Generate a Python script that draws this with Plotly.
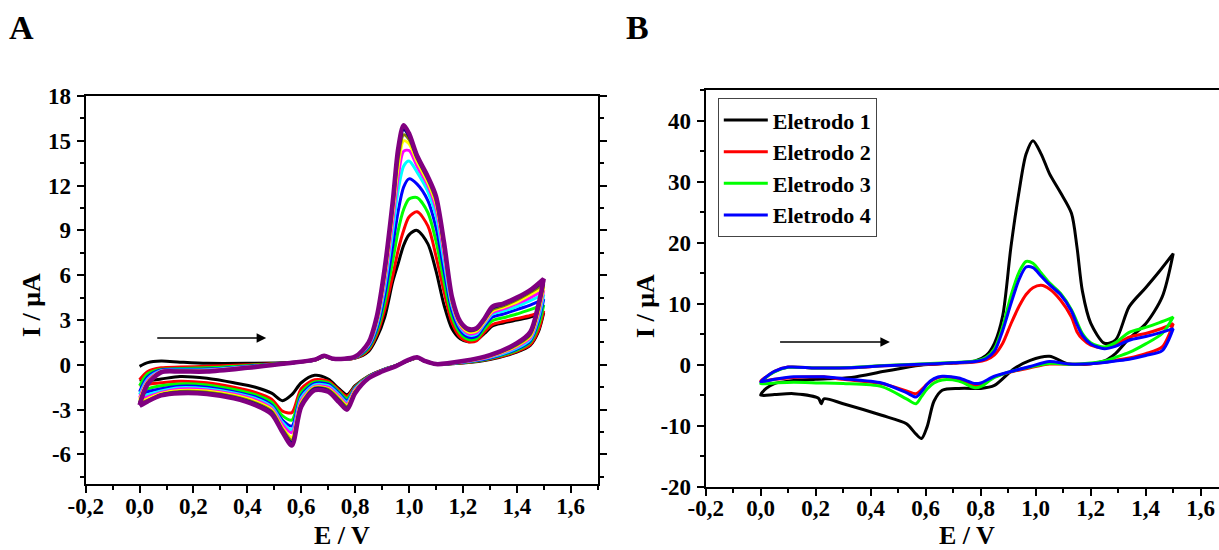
import plotly.graph_objects as go

FONT = "Liberation Serif"

# ---------------- axis ticks (decimal comma, plain hyphen) ----------------
e_ticks = [-0.2, 0.0, 0.2, 0.4, 0.6, 0.8, 1.0, 1.2, 1.4, 1.6]
e_tick_text = ["-0,2", "0,0", "0,2", "0,4", "0,6", "0,8", "1,0", "1,2", "1,4", "1,6"]
i_ticks_a = [-6, -3, 0, 3, 6, 9, 12, 15, 18]
i_tick_text_a = ["-6", "-3", "0", "3", "6", "9", "12", "15", "18"]
i_ticks_b = [-20, -10, 0, 10, 20, 30, 40]
i_tick_text_b = ["-20", "-10", "0", "10", "20", "30", "40"]

# ---------------- panel A: successive voltammetric cycles ----------------
# potential grids (V) for the anodic (forward) and cathodic (reverse) sweeps
e_fwd_a = [0.00, 0.03, 0.08, 0.15, 0.25, 0.40, 0.55, 0.65, 0.685, 0.72,
           0.80, 0.85, 0.88, 0.91, 0.94, 0.96, 0.98, 1.00, 1.03, 1.07,
           1.10, 1.13, 1.16, 1.19, 1.22, 1.25, 1.28, 1.31, 1.35, 1.40,
           1.45, 1.50]
e_rev_a = [1.50, 1.48, 1.45, 1.40, 1.30, 1.20, 1.10, 1.06, 1.03, 1.00,
           0.95, 0.90, 0.85, 0.80, 0.77, 0.74, 0.70, 0.65, 0.60, 0.565,
           0.53, 0.49, 0.43, 0.35, 0.25, 0.15, 0.08, 0.03, 0.00]

# currents (uA)
c1_fwd = [-0.10, 0.15, 0.25, 0.18, 0.10, 0.10, 0.15, 0.30, 0.55, 0.38,
          0.45, 0.90, 1.8, 3.2, 5.6, 6.8, 8.0, 8.7, 9.0, 8.1,
          6.3, 4.0, 2.4, 1.75, 1.55, 1.65, 2.1, 2.6, 2.8, 3.0,
          3.2, 3.5]
c1_rev = [3.5, 2.2, 1.3, 0.85, 0.35, 0.12, 0.05, 0.25, 0.45, 0.3,
          -0.05, -0.35, -0.75, -1.4, -2.0, -1.6, -0.95, -0.7, -1.2, -2.0,
          -2.4, -1.9, -1.5, -1.2, -0.9, -0.78, -0.95, -1.05, -1.0]

c2_fwd = [-1.0, -0.45, -0.2, -0.15, -0.1, 0.0, 0.12, 0.3, 0.55, 0.38,
          0.45, 1.0, 2.0, 3.7, 6.0, 7.7, 9.0, 9.9, 10.25, 9.3,
          7.3, 4.9, 2.8, 1.85, 1.55, 1.6, 2.2, 2.7, 2.9, 3.1,
          3.3, 3.6]
c2_rev = [3.6, 2.3, 1.35, 0.9, 0.38, 0.13, 0.05, 0.25, 0.46, 0.3,
          -0.05, -0.36, -0.77, -1.45, -2.1, -1.7, -1.1, -1.0, -1.6, -3.2,
          -3.1, -2.3, -1.85, -1.5, -1.2, -1.1, -1.2, -1.3, -1.4]

c3_fwd = [-1.4, -0.6, -0.3, -0.25, -0.2, -0.05, 0.12, 0.32, 0.56, 0.39,
          0.47, 1.1, 2.2, 4.2, 7.0, 9.0, 10.4, 11.1, 11.2, 10.2,
          8.3, 5.6, 3.2, 2.1, 1.7, 1.75, 2.4, 2.95, 3.15, 3.4,
          3.7, 4.0]
c3_rev = [4.0, 2.6, 1.5, 0.97, 0.42, 0.15, 0.05, 0.25, 0.47, 0.31,
          -0.06, -0.37, -0.79, -1.5, -2.25, -1.8, -1.2, -1.15, -1.85, -3.7,
          -3.4, -2.5, -2.0, -1.65, -1.35, -1.28, -1.4, -1.6, -1.8]

c4_fwd = [-1.8, -0.8, -0.35, -0.3, -0.28, -0.1, 0.1, 0.32, 0.57, 0.39,
          0.48, 1.2, 2.4, 4.7, 8.0, 10.3, 11.9, 12.45, 12.1, 11.0,
          9.2, 6.3, 3.6, 2.3, 1.85, 1.9, 2.6, 3.2, 3.4, 3.7,
          4.0, 4.4]
c4_rev = [4.4, 2.9, 1.6, 1.05, 0.46, 0.17, 0.05, 0.25, 0.47, 0.32,
          -0.07, -0.38, -0.81, -1.55, -2.4, -1.9, -1.3, -1.25, -2.05, -4.1,
          -3.7, -2.7, -2.15, -1.8, -1.5, -1.43, -1.6, -1.8, -2.0]

c5_fwd = [-2.0, -0.95, -0.4, -0.35, -0.33, -0.13, 0.1, 0.33, 0.58, 0.39,
          0.5, 1.3, 2.6, 5.2, 9.0, 11.7, 13.3, 13.65, 12.9, 11.6,
          10.0, 6.9, 3.9, 2.5, 2.0, 2.05, 2.75, 3.4, 3.6, 3.9,
          4.3, 4.7]
c5_rev = [4.7, 3.1, 1.7, 1.12, 0.5, 0.18, 0.05, 0.25, 0.48, 0.32,
          -0.07, -0.39, -0.83, -1.6, -2.5, -2.0, -1.4, -1.35, -2.2, -4.35,
          -3.85, -2.8, -2.25, -1.88, -1.6, -1.53, -1.75, -2.0, -2.2]

c6_fwd = [-2.2, -1.05, -0.42, -0.38, -0.37, -0.15, 0.1, 0.34, 0.59, 0.4,
          0.51, 1.35, 2.8, 5.6, 9.7, 12.6, 14.3, 14.35, 13.3, 12.0,
          10.5, 7.4, 4.1, 2.6, 2.1, 2.15, 2.85, 3.5, 3.75, 4.1,
          4.5, 5.0]
c6_rev = [5.0, 3.35, 1.8, 1.2, 0.54, 0.2, 0.05, 0.25, 0.48, 0.33,
          -0.08, -0.4, -0.85, -1.65, -2.6, -2.1, -1.5, -1.45, -2.35, -4.55,
          -4.0, -2.9, -2.35, -1.96, -1.68, -1.62, -1.85, -2.15, -2.35]

c7_fwd = [-2.35, -1.15, -0.45, -0.4, -0.4, -0.17, 0.1, 0.34, 0.59, 0.4,
          0.52, 1.4, 2.9, 5.9, 10.2, 13.3, 15.0, 14.8, 13.6, 12.2,
          10.8, 7.7, 4.2, 2.7, 2.2, 2.25, 2.9, 3.6, 3.85, 4.2,
          4.7, 5.2]
c7_rev = [5.2, 3.55, 1.9, 1.27, 0.57, 0.22, 0.05, 0.25, 0.49, 0.33,
          -0.08, -0.42, -0.86, -1.72, -2.7, -2.2, -1.6, -1.5, -2.5, -4.85,
          -4.2, -3.0, -2.45, -2.04, -1.76, -1.72, -1.92, -2.28, -2.5]

c8_fwd = [-2.5, -1.2, -0.47, -0.42, -0.42, -0.18, 0.1, 0.35, 0.6, 0.4,
          0.53, 1.45, 3.0, 6.1, 10.5, 13.8, 15.4, 15.1, 13.8, 12.4,
          11.0, 7.9, 4.3, 2.8, 2.3, 2.35, 3.0, 3.7, 3.95, 4.35,
          4.85, 5.4]
c8_rev = [5.4, 3.7, 2.0, 1.33, 0.6, 0.23, 0.05, 0.25, 0.49, 0.34,
          -0.09, -0.43, -0.88, -1.8, -2.8, -2.3, -1.65, -1.55, -2.6, -5.05,
          -4.3, -3.1, -2.55, -2.12, -1.83, -1.78, -1.98, -2.38, -2.6]

c9_fwd = [-2.6, -1.25, -0.48, -0.44, -0.44, -0.19, 0.1, 0.35, 0.6, 0.4,
          0.54, 1.48, 3.1, 6.3, 10.8, 14.2, 15.75, 15.3, 13.9, 12.5,
          11.2, 8.0, 4.4, 2.85, 2.35, 2.4, 3.05, 3.8, 4.05, 4.45,
          4.95, 5.6]
c9_rev = [5.6, 3.85, 2.1, 1.39, 0.63, 0.24, 0.05, 0.25, 0.5, 0.34,
          -0.09, -0.44, -0.89, -1.85, -2.9, -2.4, -1.72, -1.6, -2.7, -5.2,
          -4.4, -3.2, -2.62, -2.18, -1.9, -1.84, -2.02, -2.45, -2.7]

c10_fwd = [-2.7, -1.3, -0.5, -0.45, -0.45, -0.2, 0.1, 0.35, 0.6, 0.4,
           0.55, 1.5, 3.2, 6.5, 11.0, 14.5, 16.05, 15.5, 14.0, 12.6,
           11.3, 8.2, 4.5, 2.9, 2.4, 2.45, 3.1, 3.9, 4.1, 4.5,
           5.0, 5.75]
c10_rev = [5.75, 4.0, 2.2, 1.45, 0.65, 0.25, 0.05, 0.25, 0.5, 0.35,
           -0.1, -0.45, -0.9, -1.9, -3.0, -2.5, -1.8, -1.7, -2.8, -5.4,
           -4.5, -3.3, -2.7, -2.25, -1.95, -1.9, -2.05, -2.45, -2.75]

cycle_colors = ["#000000", "#FF0000", "#00FF00", "#0000FF", "#00FFFF",
                "#FF00FF", "#FFFF00", "#808000", "#000080", "#800080"]

# ---------------- panel B: four electrodes ----------------
e_fwd_b = [0.00, 0.02, 0.05, 0.10, 0.20, 0.33, 0.45, 0.58, 0.70, 0.78,
           0.82, 0.85, 0.88, 0.91, 0.94, 0.965, 0.99, 1.02, 1.05, 1.09,
           1.13, 1.15, 1.17, 1.20, 1.25, 1.29, 1.34, 1.40, 1.45, 1.50]
e_rev_b = [1.50, 1.46, 1.40, 1.34, 1.29, 1.25, 1.20, 1.12, 1.05, 0.98,
           0.92, 0.85, 0.80, 0.78, 0.72, 0.66, 0.63, 0.605, 0.585, 0.565,
           0.53, 0.44, 0.30, 0.23, 0.22, 0.21, 0.12, 0.05, 0.00]

el1_fwd = [-5.0, -3.9, -3.1, -2.7, -2.4, -2.1, -1.1, -0.1, 0.25, 0.6,
           1.5, 3.5, 8.0, 19.3, 28.5, 34.5, 36.7, 34.5, 31.3, 28.2,
           24.8, 19.3, 12.0, 6.8, 3.5, 4.0, 9.5, 12.6, 15.3, 18.2]
el1_rev = [18.2, 11.1, 6.7, 4.3, 1.8, 0.6, 0.15, 0.1, 1.36, 0.7,
           -0.7, -3.4, -3.9, -3.9, -3.9, -4.2, -6.0, -10.2, -12.1, -11.4,
           -9.7, -8.3, -6.4, -5.6, -6.4, -5.5, -4.75, -4.9, -5.0]

el2_fwd = [-2.7, -2.0, -1.1, -0.4, -0.55, -0.5, -0.2, 0.0, 0.25, 0.45,
           0.8, 1.6, 3.5, 6.7, 9.6, 11.5, 12.6, 13.0, 12.4, 10.6,
           7.8, 5.4, 4.2, 3.2, 2.8, 3.3, 4.5, 5.1, 5.8, 6.7]
el2_rev = [6.7, 2.9, 1.8, 1.1, 0.7, 0.4, 0.15, 0.05, 0.1, -0.5,
           -1.1, -2.0, -3.3, -3.4, -2.3, -2.0, -2.4, -3.2, -4.1, -4.75,
           -4.3, -3.1, -2.4, -2.0, -2.0, -2.0, -2.1, -2.4, -2.7]

el3_fwd = [-3.1, -2.1, -1.2, -0.45, -0.55, -0.45, -0.15, 0.1, 0.35, 0.6,
           1.2, 2.6, 6.2, 11.3, 15.2, 16.9, 16.6, 15.0, 13.4, 11.7,
           9.0, 7.0, 5.1, 3.6, 2.9, 3.6, 5.3, 6.1, 6.9, 7.8]
el3_rev = [7.8, 5.1, 3.4, 2.0, 1.2, 0.6, 0.25, 0.05, 0.2, -0.4,
           -1.0, -2.1, -3.6, -3.8, -2.7, -2.5, -3.0, -4.0, -5.2, -6.4,
           -5.6, -3.6, -3.1, -3.0, -3.0, -3.0, -2.9, -3.0, -3.1]

el4_fwd = [-2.8, -2.0, -1.1, -0.4, -0.55, -0.5, -0.2, 0.05, 0.3, 0.5,
           1.0, 2.2, 5.6, 10.0, 14.0, 16.0, 15.9, 14.5, 13.1, 11.5,
           8.8, 6.6, 4.8, 3.4, 2.6, 3.0, 4.0, 4.6, 5.2, 5.9]
el4_rev = [5.9, 2.3, 1.5, 0.9, 0.6, 0.35, 0.15, 0.1, 0.5, -0.3,
           -1.0, -1.9, -3.0, -3.1, -2.2, -1.9, -2.3, -3.2, -4.4, -5.3,
           -4.6, -3.0, -2.3, -2.0, -2.0, -2.0, -2.0, -2.4, -2.8]

electrode_names = ["Eletrodo 1", "Eletrodo 2", "Eletrodo 3", "Eletrodo 4"]
electrode_colors = ["#000000", "#FF0000", "#00FF00", "#0000FF"]


def bold(labels):
    return [f"<b>{t}</b>" for t in labels]


# ---------------- figure ----------------
fig = go.Figure()

cycles_fwd = [c1_fwd, c2_fwd, c3_fwd, c4_fwd, c5_fwd, c6_fwd, c7_fwd, c8_fwd, c9_fwd, c10_fwd]
cycles_rev = [c1_rev, c2_rev, c3_rev, c4_rev, c5_rev, c6_rev, c7_rev, c8_rev, c9_rev, c10_rev]
for k, (fwd, rev, col) in enumerate(zip(cycles_fwd, cycles_rev, cycle_colors)):
    fig.add_trace(go.Scatter(
        x=e_fwd_a + e_rev_a, y=fwd + rev, mode="lines",
        line=dict(color=col, width=4.5 if k == len(cycle_colors) - 1 else 3,
                  shape="spline", smoothing=0.8),
        name=f"Ciclo {k + 1}", showlegend=False, xaxis="x", yaxis="y"))

electrodes_fwd = [el1_fwd, el2_fwd, el3_fwd, el4_fwd]
electrodes_rev = [el1_rev, el2_rev, el3_rev, el4_rev]
for name, col, fwd, rev in zip(electrode_names, electrode_colors, electrodes_fwd, electrodes_rev):
    fig.add_trace(go.Scatter(
        x=e_fwd_b + e_rev_b, y=fwd + rev, mode="lines",
        line=dict(color=col, width=3, shape="spline", smoothing=0.8),
        name=f"<b>{name}</b>", showlegend=True, xaxis="x2", yaxis="y2"))

W, H = 1219, 550
tickfont = dict(family=FONT, size=23, color="black", weight="bold")
base = dict(showline=True, linecolor="black", linewidth=2, ticks="outside",
            ticklen=7, tickwidth=2, tickcolor="black", showgrid=False,
            zeroline=False, tickfont=tickfont, automargin=False,
            tickmode="array", fixedrange=True)
minor_x = dict(ticks="outside", ticklen=4, tickwidth=1.5, tickcolor="black",
               tickmode="linear", tick0=0, dtick=0.1)

fig.update_layout(
    width=W, height=H, margin=dict(l=0, r=0, t=0, b=0),
    paper_bgcolor="white", plot_bgcolor="white",
    xaxis=dict(base, domain=[85.7 / W, 597.6 / W], range=[-0.2, 1.7], anchor="y",
               tickvals=e_ticks, ticktext=bold(e_tick_text), mirror=True,
               ticklabelstandoff=-7, minor=minor_x),
    yaxis=dict(base, domain=[1 - 484.3 / H, 1 - 96 / H], range=[-8, 18], anchor="x",
               tickvals=i_ticks_a, ticktext=bold(i_tick_text_a), mirror="ticks",
               ticklabelstandoff=1,
               minor=dict(ticks="outside", ticklen=4, tickwidth=1.5,
                          tickcolor="black", tickmode="linear", tick0=0, dtick=1.5)),
    xaxis2=dict(base, domain=[705.7 / W, 1.0], range=[-0.2, -0.2 + (W - 705.7) / 275.0],
                anchor="y2", tickvals=e_ticks, ticktext=bold(e_tick_text), mirror=True,
                ticklabelstandoff=-7, minor=minor_x),
    yaxis2=dict(base, domain=[1 - 486.7 / H, 1 - 90 / H], range=[-20, 45], anchor="x2",
                tickvals=i_ticks_b, ticktext=bold(i_tick_text_b), mirror=False,
                ticklabelstandoff=1,
                minor=dict(ticks="outside", ticklen=4, tickwidth=1.5,
                           tickcolor="black", tickmode="linear", tick0=0, dtick=5)),
    legend=dict(x=717.8 / W, y=1 - 98.3 / H, xanchor="left", yanchor="top",
                bgcolor="white", bordercolor="#444444", borderwidth=1,
                font=dict(family=FONT, size=22, color="black", weight="bold"),
                tracegroupgap=0, itemwidth=44),
)

title_font = dict(family=FONT, size=26, color="black", weight="bold")
panel_font = dict(family=FONT, size=34, color="black", weight="bold")
annotations = [
    dict(text="<b>A</b>", x=21.5 / W, y=1 - 28 / H, font=panel_font),
    dict(text="<b>B</b>", x=637 / W, y=1 - 28 / H, font=panel_font),
    dict(text="<b>I / μA</b>", x=31 / W, y=1 - 305 / H, textangle=-90, font=title_font),
    dict(text="<b>I / μA</b>", x=645 / W, y=1 - 306 / H, textangle=-90, font=title_font),
    dict(text="<b>E / V</b>", x=342 / W, y=1 - 535 / H, font=title_font),
    dict(text="<b>E / V</b>", x=967 / W, y=1 - 535 / H, font=title_font),
]
for a in annotations:
    fig.add_annotation(xref="paper", yref="paper", showarrow=False,
                       xanchor="center", yanchor="middle", **a)

# sweep direction arrows
fig.add_annotation(xref="x", yref="y", axref="x", ayref="y",
                   x=0.47, y=1.8, ax=0.06, ay=1.8, text="", showarrow=True,
                   arrowhead=2, arrowsize=1.2, arrowwidth=1.6, arrowcolor="black")
fig.add_annotation(xref="x2", yref="y2", axref="x2", ayref="y2",
                   x=0.47, y=3.7, ax=0.065, ay=3.7, text="", showarrow=True,
                   arrowhead=2, arrowsize=1.2, arrowwidth=1.6, arrowcolor="black")

fig.write_html("out.html")
